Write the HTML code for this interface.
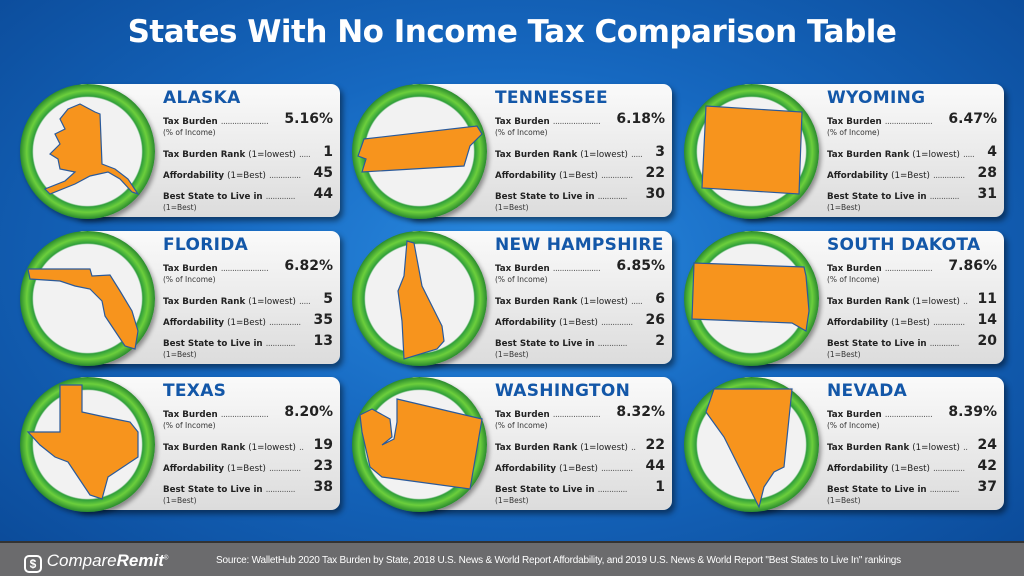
<!DOCTYPE html>
<html><head><meta charset="utf-8"><style>
*{margin:0;padding:0;box-sizing:border-box}
body{width:1024px;height:576px;overflow:hidden;position:relative;font-family:"DejaVu Sans","Liberation Sans",sans-serif;
background:radial-gradient(ellipse 70% 75% at 50% 45%,#2a8ae0 0%,#1668c0 45%,#0b4a98 100%);}
h1{position:absolute;top:14px;left:0;width:1024px;text-align:center;color:#fff;font:bold 31px "DejaVu Sans","Liberation Sans",sans-serif;letter-spacing:-0.5px}
.card{position:absolute;width:266px;height:133px;border-radius:9px;background:linear-gradient(180deg,#fafafa,#dcdcdc);box-shadow:3px 4px 6px rgba(0,0,0,.45)}
.circ{position:absolute;width:135px;height:135px;border-radius:50%;background:radial-gradient(circle closest-side,#f2f2f2 80%,#2f9e3a 82%,#6ccf3c 90%,#2a8a2e 100%);box-shadow:2px 3px 5px rgba(0,0,0,.4)}
.circ svg{position:absolute;left:0;top:0}
.t{position:absolute;left:89px;top:4px;color:#1357a8;font-weight:bold;font-size:17px;letter-spacing:.3px}
.r{position:absolute;left:89px;width:162px;font-size:8.7px;font-weight:bold;color:#222;white-space:nowrap}
.r span.n{position:absolute;right:-8px;font-size:14px;top:-6px}
.r .d{font-weight:normal;letter-spacing:-.5px;color:#555}
.r i{font-style:normal;font-weight:normal}
.s{position:absolute;left:89px;font-size:7.5px;color:#333}
.foot{position:absolute;left:0;top:541px;width:1024px;height:35px;background:#6b6b6d;border-top:2px solid #333}
.logo{position:absolute;left:24px;top:8px;color:#fff;font:italic 17px "Liberation Sans",sans-serif}
.src{position:absolute;left:216px;top:12px;color:#fff;font:10px "Liberation Sans",sans-serif;letter-spacing:-.2px}
</style></head><body>
<h1>States With No Income Tax Comparison Table</h1>

<div class="card" style="left:74px;top:84px"><div class="t">ALASKA</div>
<div class="r" style="top:33px">Tax Burden <span class="d">.....................</span><span class="n">5.16%</span></div><div class="s" style="top:44px">(% of Income)</div>
<div class="r" style="top:66px">Tax Burden Rank <i>(1=lowest)</i> <span class="d">.....</span><span class="n">1</span></div>
<div class="r" style="top:87px">Affordability <i>(1=Best)</i> <span class="d">..............</span><span class="n">45</span></div>
<div class="r" style="top:108px">Best State to Live in <span class="d">.............</span><span class="n">44</span></div><div class="s" style="top:119px">(1=Best)</div></div>
<div class="circ" style="left:20px;top:84px"><svg width="135" height="135"><polygon points="48,25 60,20 75,28 80,30 82,80 95,85 108,95 118,110 112,108 100,95 88,88 70,92 55,100 30,110 25,105 45,97 55,88 40,85 38,75 30,70 40,60 35,50 45,45 40,35" fill="#f7941d" stroke="#2b5a9a" stroke-width="1.2"/></svg></div>

<div class="card" style="left:406px;top:84px"><div class="t">TENNESSEE</div>
<div class="r" style="top:33px">Tax Burden <span class="d">.....................</span><span class="n">6.18%</span></div><div class="s" style="top:44px">(% of Income)</div>
<div class="r" style="top:66px">Tax Burden Rank <i>(1=lowest)</i> <span class="d">.....</span><span class="n">3</span></div>
<div class="r" style="top:87px">Affordability <i>(1=Best)</i> <span class="d">..............</span><span class="n">22</span></div>
<div class="r" style="top:108px">Best State to Live in <span class="d">.............</span><span class="n">30</span></div><div class="s" style="top:119px">(1=Best)</div></div>
<div class="circ" style="left:352px;top:84px"><svg width="135" height="135"><polygon points="12,55 125,42 130,50 118,62 112,82 10,88 14,75 6,72" fill="#f7941d" stroke="#2b5a9a" stroke-width="1.2"/></svg></div>

<div class="card" style="left:738px;top:84px"><div class="t">WYOMING</div>
<div class="r" style="top:33px">Tax Burden <span class="d">.....................</span><span class="n">6.47%</span></div><div class="s" style="top:44px">(% of Income)</div>
<div class="r" style="top:66px">Tax Burden Rank <i>(1=lowest)</i> <span class="d">.....</span><span class="n">4</span></div>
<div class="r" style="top:87px">Affordability <i>(1=Best)</i> <span class="d">..............</span><span class="n">28</span></div>
<div class="r" style="top:108px">Best State to Live in <span class="d">.............</span><span class="n">31</span></div><div class="s" style="top:119px">(1=Best)</div></div>
<div class="circ" style="left:684px;top:84px"><svg width="135" height="135"><polygon points="22,22 118,28 115,110 18,104" fill="#f7941d" stroke="#2b5a9a" stroke-width="1.2"/></svg></div>

<div class="card" style="left:74px;top:231px"><div class="t">FLORIDA</div>
<div class="r" style="top:33px">Tax Burden <span class="d">.....................</span><span class="n">6.82%</span></div><div class="s" style="top:44px">(% of Income)</div>
<div class="r" style="top:66px">Tax Burden Rank <i>(1=lowest)</i> <span class="d">.....</span><span class="n">5</span></div>
<div class="r" style="top:87px">Affordability <i>(1=Best)</i> <span class="d">..............</span><span class="n">35</span></div>
<div class="r" style="top:108px">Best State to Live in <span class="d">.............</span><span class="n">13</span></div><div class="s" style="top:119px">(1=Best)</div></div>
<div class="circ" style="left:20px;top:231px"><svg width="135" height="135"><polygon points="8,38 70,38 72,45 90,44 100,60 112,80 118,100 115,118 105,115 95,100 85,85 82,70 70,58 55,55 40,50 10,48" fill="#f7941d" stroke="#2b5a9a" stroke-width="1.2"/></svg></div>

<div class="card" style="left:406px;top:231px"><div class="t">NEW HAMPSHIRE</div>
<div class="r" style="top:33px">Tax Burden <span class="d">.....................</span><span class="n">6.85%</span></div><div class="s" style="top:44px">(% of Income)</div>
<div class="r" style="top:66px">Tax Burden Rank <i>(1=lowest)</i> <span class="d">.....</span><span class="n">6</span></div>
<div class="r" style="top:87px">Affordability <i>(1=Best)</i> <span class="d">..............</span><span class="n">26</span></div>
<div class="r" style="top:108px">Best State to Live in <span class="d">.............</span><span class="n">2</span></div><div class="s" style="top:119px">(1=Best)</div></div>
<div class="circ" style="left:352px;top:231px"><svg width="135" height="135"><polygon points="55,10 62,12 70,55 90,95 92,110 85,118 52,128 50,90 46,60 52,45" fill="#f7941d" stroke="#2b5a9a" stroke-width="1.2"/></svg></div>

<div class="card" style="left:738px;top:231px"><div class="t">SOUTH DAKOTA</div>
<div class="r" style="top:33px">Tax Burden <span class="d">.....................</span><span class="n">7.86%</span></div><div class="s" style="top:44px">(% of Income)</div>
<div class="r" style="top:66px">Tax Burden Rank <i>(1=lowest)</i> <span class="d">..</span><span class="n">11</span></div>
<div class="r" style="top:87px">Affordability <i>(1=Best)</i> <span class="d">..............</span><span class="n">14</span></div>
<div class="r" style="top:108px">Best State to Live in <span class="d">.............</span><span class="n">20</span></div><div class="s" style="top:119px">(1=Best)</div></div>
<div class="circ" style="left:684px;top:231px"><svg width="135" height="135"><polygon points="10,32 120,36 122,45 125,80 122,100 108,92 8,88" fill="#f7941d" stroke="#2b5a9a" stroke-width="1.2"/></svg></div>

<div class="card" style="left:74px;top:377px"><div class="t">TEXAS</div>
<div class="r" style="top:33px">Tax Burden <span class="d">.....................</span><span class="n">8.20%</span></div><div class="s" style="top:44px">(% of Income)</div>
<div class="r" style="top:66px">Tax Burden Rank <i>(1=lowest)</i> <span class="d">..</span><span class="n">19</span></div>
<div class="r" style="top:87px">Affordability <i>(1=Best)</i> <span class="d">..............</span><span class="n">23</span></div>
<div class="r" style="top:108px">Best State to Live in <span class="d">.............</span><span class="n">38</span></div><div class="s" style="top:119px">(1=Best)</div></div>
<div class="circ" style="left:20px;top:377px"><svg width="135" height="135"><polygon points="40,8 62,8 62,35 85,40 110,45 118,55 118,80 100,92 88,100 82,122 70,118 58,100 48,85 35,80 20,68 8,55 40,55" fill="#f7941d" stroke="#2b5a9a" stroke-width="1.2"/></svg></div>

<div class="card" style="left:406px;top:377px"><div class="t">WASHINGTON</div>
<div class="r" style="top:33px">Tax Burden <span class="d">.....................</span><span class="n">8.32%</span></div><div class="s" style="top:44px">(% of Income)</div>
<div class="r" style="top:66px">Tax Burden Rank <i>(1=lowest)</i> <span class="d">..</span><span class="n">22</span></div>
<div class="r" style="top:87px">Affordability <i>(1=Best)</i> <span class="d">..............</span><span class="n">44</span></div>
<div class="r" style="top:108px">Best State to Live in <span class="d">.............</span><span class="n">1</span></div><div class="s" style="top:119px">(1=Best)</div></div>
<div class="circ" style="left:352px;top:377px"><svg width="135" height="135"><polygon points="45,22 130,42 118,112 30,100 18,90 10,55 8,38 20,32 38,42 40,60 30,68 42,62 45,45" fill="#f7941d" stroke="#2b5a9a" stroke-width="1.2"/></svg></div>

<div class="card" style="left:738px;top:377px"><div class="t">NEVADA</div>
<div class="r" style="top:33px">Tax Burden <span class="d">.....................</span><span class="n">8.39%</span></div><div class="s" style="top:44px">(% of Income)</div>
<div class="r" style="top:66px">Tax Burden Rank <i>(1=lowest)</i> <span class="d">..</span><span class="n">24</span></div>
<div class="r" style="top:87px">Affordability <i>(1=Best)</i> <span class="d">..............</span><span class="n">42</span></div>
<div class="r" style="top:108px">Best State to Live in <span class="d">.............</span><span class="n">37</span></div><div class="s" style="top:119px">(1=Best)</div></div>
<div class="circ" style="left:684px;top:377px"><svg width="135" height="135"><polygon points="30,12 108,12 100,90 90,95 80,110 75,130 40,60 22,35" fill="#f7941d" stroke="#2b5a9a" stroke-width="1.2"/></svg></div>

<div class="foot"><div class="logo"><span style="display:inline-block;width:18px;height:18px;border:2px solid #fff;border-radius:5px;font:bold 12px sans-serif;text-align:center;line-height:14px;font-style:normal;vertical-align:-2px">$</span> Compare<b>Remit</b><sup style="font-size:6px">®</sup></div>
<div class="src">Source: WalletHub 2020 Tax Burden by State, 2018 U.S. News &amp; World Report Affordability, and 2019 U.S. News &amp; World Report "Best States to Live In" rankings</div></div>
</body></html>
